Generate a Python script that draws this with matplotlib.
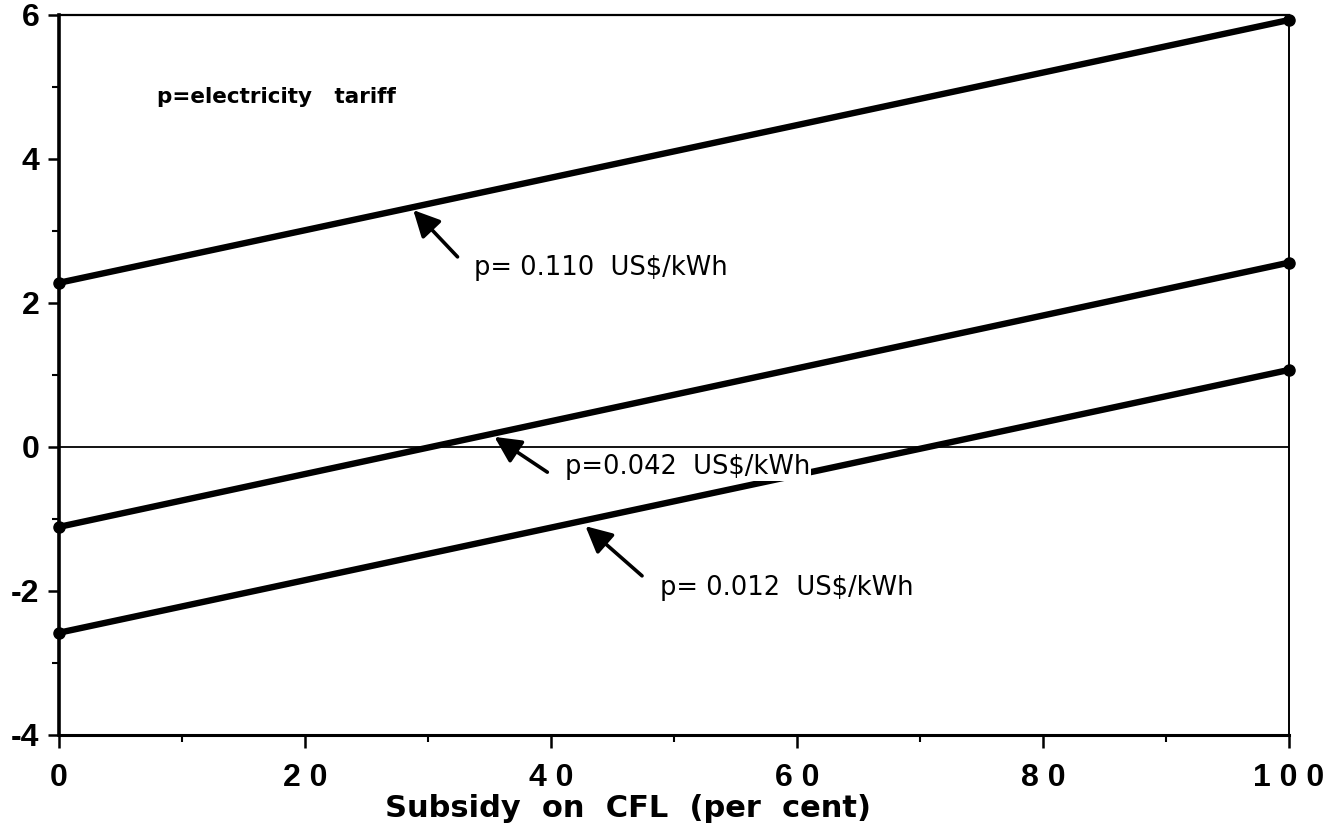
import matplotlib.pyplot as plt
from matplotlib.ticker import MultipleLocator

# subsidy on CFL (per cent) and net benefit at the two ends of each line
subsidy = [0, 100]
p_110 = [2.28, 5.93]
p_042 = [-1.11, 2.56]
p_012 = [-2.58, 1.07]

x_ticks = [0, 20, 40, 60, 80, 100]
x_tick_labels = ["0", "2 0", "4 0", "6 0", "8 0", "1 0 0"]
y_ticks = [-4, -2, 0, 2, 4, 6]
y_tick_labels = ["-4", "-2", "0", "2", "4", "6"]

plt.rcParams['font.family'] = ['DejaVu Sans']
plt.rcParams['axes.unicode_minus'] = False

fig = plt.figure(figsize=(13.44, 8.35), dpi=100)
ax = fig.add_axes([0.0439, 0.1198, 0.9152, 0.8623])

for ys in (p_110, p_042, p_012):
    ax.plot(subsidy, ys, color='black', lw=4.6, marker='o', markersize=8,
            solid_capstyle='round', clip_on=False, zorder=3)

ax.axhline(0, color='black', lw=1.3, zorder=2)

ax.set_xlim(0, 100)
ax.set_ylim(-4, 6)
ax.set_xticks(x_ticks)
ax.set_xticklabels(x_tick_labels, family='Liberation Sans', fontweight='bold')
ax.set_yticks(y_ticks)
ax.set_yticklabels(y_tick_labels, family='Liberation Sans', fontweight='bold')
ax.xaxis.set_minor_locator(MultipleLocator(10))
ax.yaxis.set_minor_locator(MultipleLocator(1))

ax.tick_params(axis='both', which='major', labelsize=23, width=1.8, direction='out')
ax.tick_params(axis='x', which='major', length=9, pad=11)
ax.tick_params(axis='y', which='major', length=8, pad=6)
ax.tick_params(axis='both', which='minor', length=5, width=1.5, direction='out')

ax.spines['left'].set_linewidth(2.6)
ax.spines['bottom'].set_linewidth(2.2)
ax.spines['top'].set_linewidth(1.6)
ax.spines['right'].set_linewidth(1.4)

ax.set_xlabel("Subsidy  on  CFL  (per  cent)", fontsize=22, fontweight='bold')
ax.xaxis.set_label_coords(0.4626, -0.082)

ax.text(8.0, 4.86, "p=electricity   tariff", fontsize=15.5, fontweight='bold',
        va='center', ha='left')

arrow = dict(arrowstyle='-|>,head_length=0.8,head_width=0.4', color='black',
             lw=2.6, mutation_scale=20, shrinkA=0, shrinkB=0)

ax.annotate('', xy=(28.8, 3.29), xytext=(32.4, 2.64), arrowprops=arrow, zorder=4)
ax.text(33.7, 2.49, "p= 0.110  US$/kWh", fontsize=18.5, va='center', ha='left')

ax.annotate('', xy=(35.4, 0.14), xytext=(39.7, -0.35), arrowprops=arrow, zorder=4)
ax.text(41.1, -0.28, "p=0.042  US$/kWh", fontsize=18.5, va='center', ha='left',
        zorder=5, bbox=dict(facecolor='white', edgecolor='none', pad=1))

ax.annotate('', xy=(42.8, -1.10), xytext=(47.4, -1.79), arrowprops=arrow, zorder=4)
ax.text(48.9, -1.96, "p= 0.012  US$/kWh", fontsize=18.5, va='center', ha='left')

fig.savefig("out.png", dpi=100)
